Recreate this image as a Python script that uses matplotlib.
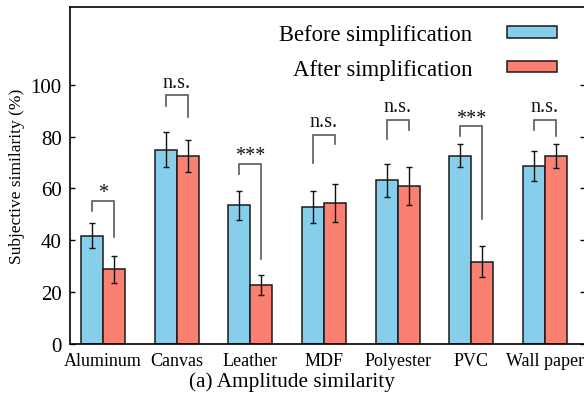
import numpy as np
import matplotlib
matplotlib.use("Agg")
import matplotlib.pyplot as plt
from matplotlib.transforms import ScaledTranslation

plt.rcParams['font.family'] = ['Liberation Serif', 'DejaVu Serif']

categories = ['Aluminum', 'Canvas', 'Leather', 'MDF', 'Polyester', 'PVC', 'Wall paper']
before = [41.8, 74.9, 53.5, 52.9, 63.1, 72.7, 68.6]
before_err = [4.9, 6.7, 5.7, 6.3, 6.5, 4.4, 5.9]
after = [28.8, 72.5, 22.8, 54.4, 60.9, 31.7, 72.5]
after_err = [5.1, 6.1, 4.0, 7.5, 7.3, 6.0, 4.6]

# significance brackets: top line height and where each leg stops
sig_labels = ['*', 'n.s.', '***', 'n.s.', 'n.s.', '***', 'n.s.']
sig_top = [55.3, 96.1, 69.5, 80.8, 86.6, 84.0, 86.6]
sig_left = [51.2, 92.0, 65.6, 69.8, 79.0, 80.2, 82.7]
sig_right = [41.2, 87.5, 32.8, 77.0, 82.6, 48.3, 80.2]

yticks = [0, 20, 40, 60, 80, 100]

W, H = 584, 402
fig = plt.figure(figsize=(W / 100, H / 100), dpi=100)
ax = fig.add_axes([70 / W, (H - 345) / H, (585 - 70) / W, (345 - 8) / H])

x = np.arange(len(categories))
bw = 0.3
c_before = '#87CEEB'
c_after = '#FA8072'

ax.bar(x - bw / 2, before, bw, color=c_before, edgecolor='#1a1a1a', linewidth=1.1,
       label='Before simplification', zorder=2)
ax.bar(x + bw / 2, after, bw, color=c_after, edgecolor='#1a1a1a', linewidth=1.1,
       label='After simplification', zorder=2)
ax.errorbar(x - bw / 2, before, yerr=before_err, fmt='none', ecolor='#111111',
            elinewidth=1.0, capsize=2.4, capthick=1.0, zorder=3)
ax.errorbar(x + bw / 2, after, yerr=after_err, fmt='none', ecolor='#111111',
            elinewidth=1.0, capsize=2.4, capthick=1.0, zorder=3)

for i, lab in enumerate(sig_labels):
    xl, xr = x[i] - bw / 2, x[i] + bw / 2
    ax.plot([xl, xl, xr, xr], [sig_left[i], sig_top[i], sig_top[i], sig_right[i]],
            color='#5a5a5a', linewidth=1.2, zorder=3, solid_joinstyle='miter')
    dy = 2.5 if '*' in lab else 6
    ax.annotate(lab, (x[i], sig_top[i]), xytext=(0, dy), textcoords='offset points',
                ha='center', va='baseline', fontsize=14.5, color='#111111')

ax.set_xlim(-0.448, 6.543)
ax.set_ylim(0, 130)
ax.set_yticks(yticks)
ax.set_xticks(x)
ax.set_xticklabels(categories, fontsize=13)
# category labels sit slightly left of the group centres
shifts = [-6.5, -3, 2, -1.5, -3, -2, -3.5]
for lbl, dx in zip(ax.get_xticklabels(), shifts):
    lbl.set_transform(lbl.get_transform() + ScaledTranslation(dx / 100, 0, fig.dpi_scale_trans))
ax.tick_params(axis='y', which='both', direction='in', length=3.6, width=1.0,
               labelsize=15, right=True, pad=6)
ax.tick_params(axis='x', length=0, pad=6)
ax.set_ylabel('Subjective similarity (%)', fontsize=12.5, labelpad=4)
for s in ax.spines.values():
    s.set_linewidth(1.2)

leg = ax.legend(loc='upper right', bbox_to_anchor=(557 / W, (H - 25) / H),
                bbox_transform=fig.transFigure, frameon=False, markerfirst=False,
                fontsize=16.3, handlelength=2.2, handleheight=0.4, handletextpad=1.55,
                labelspacing=0.6, borderpad=0, borderaxespad=0)
for t in leg.get_texts():
    t.set_ha('right')

fig.text(0.5, (H - 382) / H, '(a) Amplitude similarity', ha='center', va='center',
         fontsize=15.3)

fig.savefig('out.png', dpi=100)
